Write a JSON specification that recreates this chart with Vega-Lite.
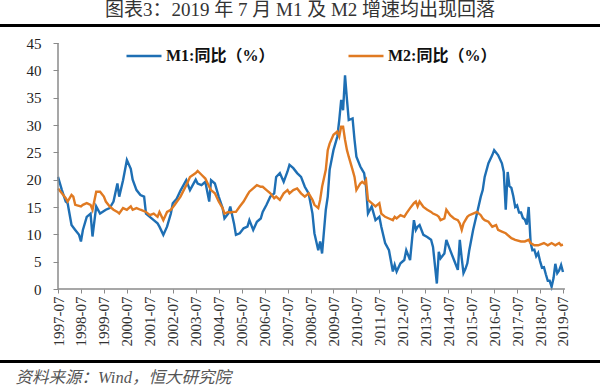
{
  "$schema": "https://vega.github.io/schema/vega-lite/v6.json",
  "background": "white",
  "autosize": "none",
  "padding": {"left": 0, "right": 0, "top": 25, "bottom": 0},
  "width": 600,
  "height": 361,
  "config": {
    "font": "Liberation Serif, Noto Sans CJK SC",
    "view": {"stroke": null},
    "axis": {"labelOverlap": false, "labelBound": false, "grid": false, "domain": false},
    "axisX": {"labelOverlap": false, "labelAngle": -90, "labelFont": "Liberation Serif", "labelFontSize": 15, "labelColor": "#333", "labelPadding": 3, "labelFlush": false, "tickColor": "#8a8a8a", "tickSize": 4, "offset": -97,
      "titleFont": "Liberation Serif, Noto Sans CJK SC", "titleFontSize": 16.5, "titleFontStyle": "italic", "titleFontWeight": "normal", "titleColor": "#555", "titleX": 15, "titleY": 93, "titleAlign": "left", "titleAnchor": null, "titleBaseline": "alphabetic"},
    "axisY": {"labelFont": "Liberation Serif", "labelFontSize": 15, "labelColor": "#222", "labelPadding": 12, "tickColor": "#8a8a8a", "tickSize": 5, "offset": -58}
  },
  "title": {"text": "图表3：2019 年 7 月 M1 及 M2 增速均出现回落", "font": "Liberation Serif, Noto Sans CJK SC", "fontSize": 19, "fontWeight": "normal", "color": "#333", "anchor": "middle", "frame": "group", "offset": 4},
  "layer": [
    {
      "data": {"values": [
        {"t":"1997-07","k":"M1","v":20.5},{"t":"1997-09","k":"M1","v":18.1},{"t":"1997-11","k":"M1","v":16.0},{"t":"1997-12","k":"M1","v":15.7},
        {"t":"1998-02","k":"M1","v":11.7},{"t":"1998-04","k":"M1","v":10.8},{"t":"1998-06","k":"M1","v":9.9},{"t":"1998-07","k":"M1","v":8.7},
        {"t":"1998-08","k":"M1","v":10.8},{"t":"1998-10","k":"M1","v":13.2},{"t":"1998-12","k":"M1","v":13.8},{"t":"1999-01","k":"M1","v":9.6},
        {"t":"1999-03","k":"M1","v":15.1},{"t":"1999-05","k":"M1","v":13.8},{"t":"1999-08","k":"M1","v":14.5},{"t":"1999-10","k":"M1","v":14.8},
        {"t":"1999-12","k":"M1","v":16.0},{"t":"2000-02","k":"M1","v":19.3},{"t":"2000-03","k":"M1","v":16.9},{"t":"2000-05","k":"M1","v":19.9},
        {"t":"2000-07","k":"M1","v":23.6},{"t":"2000-09","k":"M1","v":22.0},{"t":"2000-10","k":"M1","v":20.0},{"t":"2000-12","k":"M1","v":18.1},
        {"t":"2001-02","k":"M1","v":17.2},{"t":"2001-04","k":"M1","v":16.9},{"t":"2001-05","k":"M1","v":13.8},{"t":"2001-07","k":"M1","v":13.2},
        {"t":"2001-09","k":"M1","v":12.6},{"t":"2001-11","k":"M1","v":12.0},{"t":"2001-12","k":"M1","v":11.4},{"t":"2002-02","k":"M1","v":9.9},
        {"t":"2002-04","k":"M1","v":11.4},{"t":"2002-06","k":"M1","v":13.8},{"t":"2002-07","k":"M1","v":15.7},{"t":"2002-09","k":"M1","v":16.5},
        {"t":"2002-11","k":"M1","v":18.0},{"t":"2003-02","k":"M1","v":19.9},{"t":"2003-04","k":"M1","v":18.1},{"t":"2003-07","k":"M1","v":20.0},
        {"t":"2003-08","k":"M1","v":19.3},{"t":"2003-10","k":"M1","v":19.0},{"t":"2003-12","k":"M1","v":19.6},{"t":"2004-02","k":"M1","v":16.0},
        {"t":"2004-03","k":"M1","v":19.9},{"t":"2004-05","k":"M1","v":19.3},{"t":"2004-07","k":"M1","v":16.9},{"t":"2004-09","k":"M1","v":14.8},
        {"t":"2004-10","k":"M1","v":12.9},{"t":"2004-12","k":"M1","v":13.8},{"t":"2005-01","k":"M1","v":15.1},{"t":"2005-03","k":"M1","v":12.0},
        {"t":"2005-04","k":"M1","v":9.9},{"t":"2005-06","k":"M1","v":10.2},{"t":"2005-08","k":"M1","v":11.1},{"t":"2005-10","k":"M1","v":11.4},
        {"t":"2005-11","k":"M1","v":12.6},{"t":"2006-01","k":"M1","v":10.8},{"t":"2006-03","k":"M1","v":12.3},{"t":"2006-05","k":"M1","v":12.9},
        {"t":"2006-06","k":"M1","v":14.1},{"t":"2006-08","k":"M1","v":15.4},{"t":"2006-10","k":"M1","v":16.9},{"t":"2006-12","k":"M1","v":17.5},
        {"t":"2007-01","k":"M1","v":20.5},{"t":"2007-03","k":"M1","v":21.2},{"t":"2007-05","k":"M1","v":19.6},{"t":"2007-07","k":"M1","v":21.5},
        {"t":"2007-08","k":"M1","v":22.7},{"t":"2007-10","k":"M1","v":22.1},{"t":"2007-12","k":"M1","v":21.2},{"t":"2008-02","k":"M1","v":20.5},
        {"t":"2008-04","k":"M1","v":18.7},{"t":"2008-06","k":"M1","v":17.5},{"t":"2008-08","k":"M1","v":13.8},{"t":"2008-09","k":"M1","v":10.2},
        {"t":"2008-11","k":"M1","v":7.1},{"t":"2008-12","k":"M1","v":8.7},{"t":"2009-01","k":"M1","v":6.5},{"t":"2009-03","k":"M1","v":14.5},
        {"t":"2009-04","k":"M1","v":16.9},{"t":"2009-05","k":"M1","v":21.8},{"t":"2009-07","k":"M1","v":25.4},{"t":"2009-09","k":"M1","v":27.9},
        {"t":"2009-10","k":"M1","v":30.9},{"t":"2009-11","k":"M1","v":34.6},{"t":"2009-12","k":"M1","v":32.7},{"t":"2010-01","k":"M1","v":39.1},
        {"t":"2010-02","k":"M1","v":34.6},{"t":"2010-03","k":"M1","v":30.9},{"t":"2010-05","k":"M1","v":31.2},{"t":"2010-06","k":"M1","v":27.3},
        {"t":"2010-07","k":"M1","v":24.2},{"t":"2010-09","k":"M1","v":22.4},{"t":"2010-10","k":"M1","v":21.8},{"t":"2010-11","k":"M1","v":21.2},
        {"t":"2010-12","k":"M1","v":18.7},{"t":"2011-01","k":"M1","v":13.8},{"t":"2011-03","k":"M1","v":15.1},{"t":"2011-05","k":"M1","v":12.6},
        {"t":"2011-07","k":"M1","v":13.2},{"t":"2011-08","k":"M1","v":11.4},{"t":"2011-10","k":"M1","v":8.4},{"t":"2011-12","k":"M1","v":7.1},
        {"t":"2012-02","k":"M1","v":3.2},{"t":"2012-03","k":"M1","v":4.4},{"t":"2012-04","k":"M1","v":3.2},{"t":"2012-06","k":"M1","v":4.7},
        {"t":"2012-08","k":"M1","v":5.3},{"t":"2012-09","k":"M1","v":7.1},{"t":"2012-11","k":"M1","v":5.3},{"t":"2013-01","k":"M1","v":12.6},
        {"t":"2013-02","k":"M1","v":10.8},{"t":"2013-03","k":"M1","v":11.4},{"t":"2013-04","k":"M1","v":11.7},{"t":"2013-06","k":"M1","v":9.9},
        {"t":"2013-08","k":"M1","v":9.5},{"t":"2013-10","k":"M1","v":9.0},{"t":"2013-11","k":"M1","v":7.7},{"t":"2014-01","k":"M1","v":1.0},
        {"t":"2014-02","k":"M1","v":6.8},{"t":"2014-03","k":"M1","v":5.6},{"t":"2014-05","k":"M1","v":6.5},{"t":"2014-06","k":"M1","v":9.0},
        {"t":"2014-08","k":"M1","v":7.1},{"t":"2014-10","k":"M1","v":5.3},{"t":"2014-12","k":"M1","v":3.5},{"t":"2015-01","k":"M1","v":9.0},
        {"t":"2015-02","k":"M1","v":5.6},{"t":"2015-03","k":"M1","v":2.9},{"t":"2015-04","k":"M1","v":3.7},{"t":"2015-05","k":"M1","v":4.7},
        {"t":"2015-06","k":"M1","v":7.1},{"t":"2015-08","k":"M1","v":10.8},{"t":"2015-10","k":"M1","v":13.8},{"t":"2015-12","k":"M1","v":16.9},
        {"t":"2016-01","k":"M1","v":18.1},{"t":"2016-02","k":"M1","v":20.5},{"t":"2016-04","k":"M1","v":23.0},{"t":"2016-06","k":"M1","v":24.5},
        {"t":"2016-07","k":"M1","v":25.4},{"t":"2016-09","k":"M1","v":24.5},{"t":"2016-11","k":"M1","v":23.0},{"t":"2016-12","k":"M1","v":21.4},
        {"t":"2017-01","k":"M1","v":14.5},{"t":"2017-02","k":"M1","v":21.4},{"t":"2017-03","k":"M1","v":18.8},{"t":"2017-04","k":"M1","v":18.5},
        {"t":"2017-05","k":"M1","v":17.0},{"t":"2017-06","k":"M1","v":15.0},{"t":"2017-07","k":"M1","v":15.3},{"t":"2017-08","k":"M1","v":14.0},
        {"t":"2017-09","k":"M1","v":14.0},{"t":"2017-10","k":"M1","v":13.0},{"t":"2017-11","k":"M1","v":12.7},{"t":"2017-12","k":"M1","v":11.8},
        {"t":"2018-01","k":"M1","v":15.0},{"t":"2018-02","k":"M1","v":8.5},{"t":"2018-03","k":"M1","v":7.1},{"t":"2018-04","k":"M1","v":7.2},
        {"t":"2018-05","k":"M1","v":6.0},{"t":"2018-06","k":"M1","v":6.6},{"t":"2018-07","k":"M1","v":5.1},{"t":"2018-08","k":"M1","v":3.9},
        {"t":"2018-09","k":"M1","v":4.0},{"t":"2018-10","k":"M1","v":2.7},{"t":"2018-11","k":"M1","v":1.5},{"t":"2018-12","k":"M1","v":1.5},
        {"t":"2019-01","k":"M1","v":0.4},{"t":"2019-02","k":"M1","v":2.0},{"t":"2019-03","k":"M1","v":4.6},{"t":"2019-04","k":"M1","v":2.9},
        {"t":"2019-05","k":"M1","v":3.4},{"t":"2019-06","k":"M1","v":4.4},{"t":"2019-07","k":"M1","v":3.1},

        {"t":"1997-07","k":"M2","v":18.4},{"t":"1997-09","k":"M2","v":17.5},{"t":"1997-11","k":"M2","v":16.6},{"t":"1997-12","k":"M2","v":16.0},
        {"t":"1998-02","k":"M2","v":17.2},{"t":"1998-03","k":"M2","v":16.9},{"t":"1998-04","k":"M2","v":15.4},{"t":"1998-07","k":"M2","v":15.1},
        {"t":"1998-08","k":"M2","v":15.4},{"t":"1998-10","k":"M2","v":15.7},{"t":"1998-12","k":"M2","v":15.4},{"t":"1999-01","k":"M2","v":14.5},
        {"t":"1999-03","k":"M2","v":17.8},{"t":"1999-05","k":"M2","v":17.8},{"t":"1999-07","k":"M2","v":16.9},{"t":"1999-08","k":"M2","v":16.0},
        {"t":"1999-10","k":"M2","v":15.1},{"t":"1999-12","k":"M2","v":14.5},{"t":"2000-02","k":"M2","v":14.1},{"t":"2000-03","k":"M2","v":13.8},
        {"t":"2000-05","k":"M2","v":14.8},{"t":"2000-07","k":"M2","v":14.5},{"t":"2000-09","k":"M2","v":15.1},{"t":"2000-10","k":"M2","v":14.5},
        {"t":"2000-12","k":"M2","v":14.8},{"t":"2001-02","k":"M2","v":14.5},{"t":"2001-05","k":"M2","v":14.1},{"t":"2001-07","k":"M2","v":13.5},
        {"t":"2001-09","k":"M2","v":13.8},{"t":"2001-11","k":"M2","v":13.2},{"t":"2001-12","k":"M2","v":14.1},{"t":"2002-02","k":"M2","v":12.6},
        {"t":"2002-04","k":"M2","v":14.1},{"t":"2002-06","k":"M2","v":14.5},{"t":"2002-08","k":"M2","v":15.4},{"t":"2002-11","k":"M2","v":16.9},
        {"t":"2003-02","k":"M2","v":19.0},{"t":"2003-04","k":"M2","v":20.5},{"t":"2003-07","k":"M2","v":21.2},{"t":"2003-08","k":"M2","v":21.6},
        {"t":"2003-10","k":"M2","v":20.9},{"t":"2003-12","k":"M2","v":20.2},{"t":"2004-02","k":"M2","v":18.7},{"t":"2004-03","k":"M2","v":18.1},
        {"t":"2004-05","k":"M2","v":17.5},{"t":"2004-07","k":"M2","v":16.0},{"t":"2004-09","k":"M2","v":14.8},{"t":"2004-10","k":"M2","v":13.8},
        {"t":"2004-12","k":"M2","v":14.1},{"t":"2005-01","k":"M2","v":14.0},{"t":"2005-03","k":"M2","v":14.1},{"t":"2005-04","k":"M2","v":14.1},
        {"t":"2005-06","k":"M2","v":15.1},{"t":"2005-08","k":"M2","v":16.0},{"t":"2005-10","k":"M2","v":17.2},{"t":"2005-11","k":"M2","v":17.8},
        {"t":"2006-01","k":"M2","v":18.4},{"t":"2006-03","k":"M2","v":19.0},{"t":"2006-05","k":"M2","v":18.7},{"t":"2006-06","k":"M2","v":18.7},
        {"t":"2006-08","k":"M2","v":18.1},{"t":"2006-10","k":"M2","v":17.5},{"t":"2006-12","k":"M2","v":16.6},{"t":"2007-01","k":"M2","v":16.9},
        {"t":"2007-03","k":"M2","v":16.3},{"t":"2007-05","k":"M2","v":17.5},{"t":"2007-07","k":"M2","v":18.1},{"t":"2007-08","k":"M2","v":17.5},
        {"t":"2007-10","k":"M2","v":18.1},{"t":"2007-12","k":"M2","v":18.4},{"t":"2008-02","k":"M2","v":17.5},{"t":"2008-04","k":"M2","v":16.9},
        {"t":"2008-06","k":"M2","v":17.5},{"t":"2008-08","k":"M2","v":16.3},{"t":"2008-09","k":"M2","v":15.4},{"t":"2008-11","k":"M2","v":14.8},
        {"t":"2008-12","k":"M2","v":16.3},{"t":"2009-01","k":"M2","v":18.7},{"t":"2009-03","k":"M2","v":21.8},{"t":"2009-04","k":"M2","v":25.4},
        {"t":"2009-05","k":"M2","v":26.6},{"t":"2009-07","k":"M2","v":28.2},{"t":"2009-09","k":"M2","v":28.8},{"t":"2009-10","k":"M2","v":27.9},
        {"t":"2009-11","k":"M2","v":29.7},{"t":"2009-12","k":"M2","v":29.7},{"t":"2010-01","k":"M2","v":27.3},{"t":"2010-02","k":"M2","v":25.4},
        {"t":"2010-03","k":"M2","v":24.2},{"t":"2010-05","k":"M2","v":21.8},{"t":"2010-06","k":"M2","v":20.5},{"t":"2010-07","k":"M2","v":18.1},
        {"t":"2010-09","k":"M2","v":19.3},{"t":"2010-10","k":"M2","v":19.6},{"t":"2010-11","k":"M2","v":19.3},{"t":"2010-12","k":"M2","v":19.9},
        {"t":"2011-01","k":"M2","v":16.3},{"t":"2011-03","k":"M2","v":15.7},{"t":"2011-05","k":"M2","v":15.1},{"t":"2011-07","k":"M2","v":15.7},
        {"t":"2011-08","k":"M2","v":13.8},{"t":"2011-10","k":"M2","v":13.2},{"t":"2011-12","k":"M2","v":12.9},{"t":"2012-02","k":"M2","v":12.6},
        {"t":"2012-03","k":"M2","v":13.2},{"t":"2012-04","k":"M2","v":12.9},{"t":"2012-06","k":"M2","v":13.5},{"t":"2012-08","k":"M2","v":13.2},
        {"t":"2012-09","k":"M2","v":13.8},{"t":"2012-11","k":"M2","v":14.8},{"t":"2013-01","k":"M2","v":15.7},{"t":"2013-02","k":"M2","v":16.0},
        {"t":"2013-03","k":"M2","v":15.1},{"t":"2013-04","k":"M2","v":16.0},{"t":"2013-06","k":"M2","v":15.0},{"t":"2013-08","k":"M2","v":14.5},
        {"t":"2013-10","k":"M2","v":14.1},{"t":"2013-11","k":"M2","v":13.8},{"t":"2014-01","k":"M2","v":13.5},{"t":"2014-02","k":"M2","v":13.2},
        {"t":"2014-03","k":"M2","v":12.6},{"t":"2014-05","k":"M2","v":12.9},{"t":"2014-06","k":"M2","v":14.5},{"t":"2014-08","k":"M2","v":13.5},
        {"t":"2014-10","k":"M2","v":12.9},{"t":"2014-12","k":"M2","v":12.6},{"t":"2015-01","k":"M2","v":12.0},{"t":"2015-02","k":"M2","v":10.8},
        {"t":"2015-03","k":"M2","v":12.0},{"t":"2015-05","k":"M2","v":13.2},{"t":"2015-06","k":"M2","v":13.5},{"t":"2015-08","k":"M2","v":13.8},
        {"t":"2015-10","k":"M2","v":14.1},{"t":"2015-12","k":"M2","v":13.5},{"t":"2016-01","k":"M2","v":12.9},{"t":"2016-02","k":"M2","v":12.6},
        {"t":"2016-04","k":"M2","v":12.3},{"t":"2016-06","k":"M2","v":11.4},{"t":"2016-08","k":"M2","v":11.7},{"t":"2016-09","k":"M2","v":10.8},
        {"t":"2016-11","k":"M2","v":10.5},{"t":"2017-01","k":"M2","v":10.2},{"t":"2017-03","k":"M2","v":9.6},{"t":"2017-04","k":"M2","v":9.3},
        {"t":"2017-06","k":"M2","v":9.0},{"t":"2017-09","k":"M2","v":8.7},{"t":"2017-11","k":"M2","v":8.7},{"t":"2018-01","k":"M2","v":9.0},
        {"t":"2018-02","k":"M2","v":8.4},{"t":"2018-04","k":"M2","v":8.0},{"t":"2018-06","k":"M2","v":8.0},{"t":"2018-09","k":"M2","v":8.4},
        {"t":"2018-11","k":"M2","v":8.0},{"t":"2019-01","k":"M2","v":8.4},{"t":"2019-03","k":"M2","v":8.0},{"t":"2019-05","k":"M2","v":8.4},
        {"t":"2019-06","k":"M2","v":8.0},{"t":"2019-07","k":"M2","v":8.1}
      ]},
      "mark": {"type": "line", "strokeWidth": 2.4},
      "encoding": {
        "x": {
          "field": "t", "type": "temporal",
          "scale": {"domain": [{"year": 1994, "month": 12, "date": 21}, {"year": 2021, "month": 2, "date": 9}], "nice": false},
          "axis": {
            "title": "资料来源：Wind，恒大研究院", "format": "%Y-%m", "labelOverlap": false, "tickCount": 40,
            "values": [
              {"year":1997,"month":7,"date":1},{"year":1998,"month":7,"date":1},{"year":1999,"month":7,"date":1},{"year":2000,"month":7,"date":1},
              {"year":2001,"month":7,"date":1},{"year":2002,"month":7,"date":1},{"year":2003,"month":7,"date":1},{"year":2004,"month":7,"date":1},
              {"year":2005,"month":7,"date":1},{"year":2006,"month":7,"date":1},{"year":2007,"month":7,"date":1},{"year":2008,"month":7,"date":1},
              {"year":2009,"month":7,"date":1},{"year":2010,"month":7,"date":1},{"year":2011,"month":7,"date":1},{"year":2012,"month":7,"date":1},
              {"year":2013,"month":7,"date":1},{"year":2014,"month":7,"date":1},{"year":2015,"month":7,"date":1},{"year":2016,"month":7,"date":1},
              {"year":2017,"month":7,"date":1},{"year":2018,"month":7,"date":1},{"year":2019,"month":7,"date":1}
            ]
          }
        },
        "y": {
          "field": "v", "type": "quantitative",
          "scale": {"domain": [-17.744, 48.293], "nice": false, "zero": false},
          "axis": {"title": null, "tickCount": 20, "values": [0, 5, 10, 15, 20, 25, 30, 35, 40, 45]}
        },
        "color": {
          "field": "k", "type": "nominal",
          "scale": {"domain": ["M1", "M2"], "range": ["#1E6FB4", "#E07A22"]},
          "legend": {
            "title": null, "orient": "none", "legendX": 125, "legendY": 12, "direction": "horizontal",
            "labelExpr": "datum.label + ':同比（%）'",
            "labelFont": "Liberation Serif, Noto Sans CJK SC", "labelFontSize": 16, "labelFontWeight": "bold", "labelColor": "#111",
            "symbolType": "stroke", "symbolSize": 1225, "symbolStrokeWidth": 2.5, "labelOffset": 3, "columnPadding": 68
          }
        }
      }
    },
    {
      "data": {"values": [{"lv": 48.2, "w": "top"}, {"lv": -13.26, "w": "bottom"}]},
      "mark": {"type": "rule", "color": "#000", "strokeWidth": 3.2},
      "encoding": {"y": {"field": "lv", "type": "quantitative"}}
    },
    {
      "data": {"values": [{"a": "1997-07", "b": "2019-08", "lo": 0, "hi": 0}, {"a": "1997-07", "b": "1997-07", "lo": 0, "hi": 45}]},
      "mark": {"type": "rule", "color": "#8a8a8a", "strokeWidth": 1.5},
      "encoding": {
        "x": {"field": "a", "type": "temporal"},
        "x2": {"field": "b"},
        "y": {"field": "lo", "type": "quantitative"},
        "y2": {"field": "hi"}
      }
    }
  ]
}
